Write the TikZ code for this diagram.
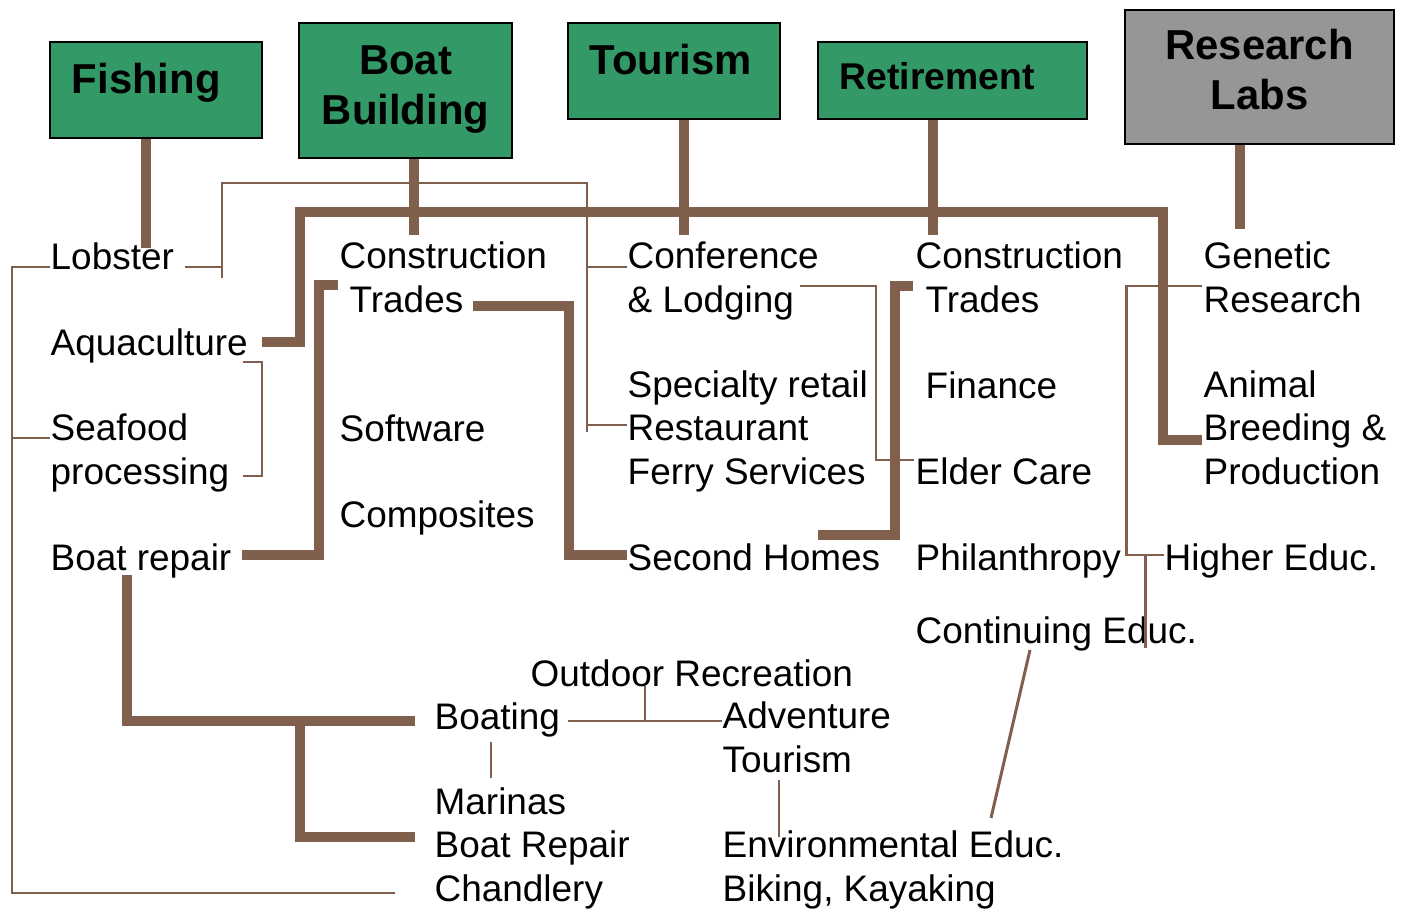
\documentclass[tikz,border=0pt]{standalone}
\usepackage{fontspec}
\setmainfont{Liberation Sans}
\definecolor{bark}{RGB}{128,96,77}
\definecolor{sea}{RGB}{51,153,102}
\definecolor{lab}{RGB}{150,150,150}

\begin{document}
\begin{tikzpicture}[x=0.01cm, y=-0.01cm,
  trunk/.style={draw=bark, line width=2.6pt},
  twig/.style={draw=bark, line width=0.85pt},
  sector/.style={draw=black, line width=0.6pt, fill=sea, anchor=north, inner ysep=0pt, inner xsep=0.22cm,
    align=left, font=\bfseries\fontsize{11.9}{14.2}\selectfont},
  item/.style={anchor=base west, inner sep=0pt, align=left, font=\fontsize{10.5}{12.23}\selectfont}]
\useasboundingbox (0,0) rectangle (1402,909);

% sectors
\node [sector, text width=1.68cm, text height=0.51cm, text depth=0.45cm] (fish) at (156,41) {Fishing};
\node [sector, align=center, text width=1.69cm, text height=0.51cm, text depth=0.84cm] (boat) at (405.5,22) {Boat\\Building};
\node [sector, text width=1.68cm, text height=0.51cm, text depth=0.45cm] (tour) at (674,22) {Tourism};
\node [sector, text width=2.25cm, text height=0.47cm, text depth=0.30cm,
  font=\bfseries\fontsize{10.6}{12.7}\selectfont] (retire) at (952.5,41) {Retirement};
\node [sector, fill=lab, align=center, text width=2.25cm, text height=0.49cm, text depth=0.85cm] (labs) at (1259.5,9) {Research\\Labs};

% activities (multi-line nodes sit on their last line)
\node [item] (lobster) at (50,269) {Lobster};
\node [item] (aqua) at (50,355) {Aquaculture};
\node [item] (seafood) at (50,484) {Seafood\\processing};
\node [item] (boatrep) at (50,570) {Boat repair};
\node [item] (constr) at (339,312) {Construction\\\hspace*{.1cm}Trades};
\node [item] (software) at (339,441) {Software};
\node [item] (composites) at (339,527) {Composites};
\node [item] (conf) at (627,312) {Conference\\\& Lodging};
\node [item] (retail) at (627,484) {Specialty retail\\Restaurant\\Ferry Services};
\node [item] (homes) at (627,570) {Second Homes};
\node [item] (constrb) at (915,312) {Construction\\\hspace*{.1cm}Trades};
\node [item] (finance) at (925,398) {Finance};
\node [item] (elder) at (915,484) {Elder Care};
\node [item] (phil) at (915,570) {Philanthropy};
\node [item] (contedu) at (915,643) {Continuing Educ.};
\node [item] (genetic) at (1203,312) {Genetic\\Research};
\node [item] (animal) at (1203,484) {Animal\\Breeding \&\\Production};
\node [item] (higher) at (1164,570) {Higher Educ.};
\node [item] (outdoor) at (530,686) {Outdoor Recreation};
\node [item] (boating) at (434,729) {Boating};
\node [item] (adventure) at (722,772) {Adventure\\Tourism};
\node [item] (marinas) at (434,901) {Marinas\\Boat Repair\\Chandlery};
\node [item] (enved) at (722,901) {Environmental Educ.\\Biking, Kayaking};

% thick links
\draw [trunk] (fish.south -| 146,0) -- (146,248);
\draw [trunk] (boat.south -| 414,0) -- (414,235);
\draw [trunk] (tour.south -| 684,0) -- (684,235);
\draw [trunk] (retire.south -| 933,0) -- (933,235);
\draw [trunk] (labs.south -| 1240,0) -- (1240,229);
\draw [trunk] (262,342) -- (300,342) -- (300,212) -- (1163,212) -- (1163,440) -- (1202,440);
\draw [trunk] (338,285) -- (319,285) -- (319,555) -- (242,555);
\draw [trunk] (473,306) -- (569,306) -- (569,555) -- (627,555);
\draw [trunk] (913,286) -- (895,286) -- (895,535) -- (818,535);
\draw [trunk] (127,575) -- (127,721) -- (415,721);
\draw [trunk] (300,721) -- (300,837) -- (415,837);

% thin links
\draw [twig] (185,267) -- (222,267);
\draw [twig] (222,278) -- (222,183) -- (587,183) -- (587,432);
\draw [twig] (587,267) -- (627,267);
\draw [twig] (587,425) -- (627,425);
\draw [twig] (50,267) -- (12,267) -- (12,893) -- (395,893);
\draw [twig] (12,438) -- (50,438);
\draw [twig] (243,362) -- (262,362) -- (262,476) -- (243,476);
\draw [twig] (800,286) -- (876,286) -- (876,460) -- (914,460);
\draw [twig] (1202,286) -- (1126,286) -- (1126,555) -- (1164,555);
\draw [twig] (1145,555) -- (1145,648);
\draw [twig] (1030,650) -- (991,818);
\draw [twig] (568,721) -- (722,721);
\draw [twig] (645,686) -- (645,721);
\draw [twig] (491,742) -- (491,778);
\draw [twig] (779,780) -- (779,837);
\end{tikzpicture}
\end{document}
